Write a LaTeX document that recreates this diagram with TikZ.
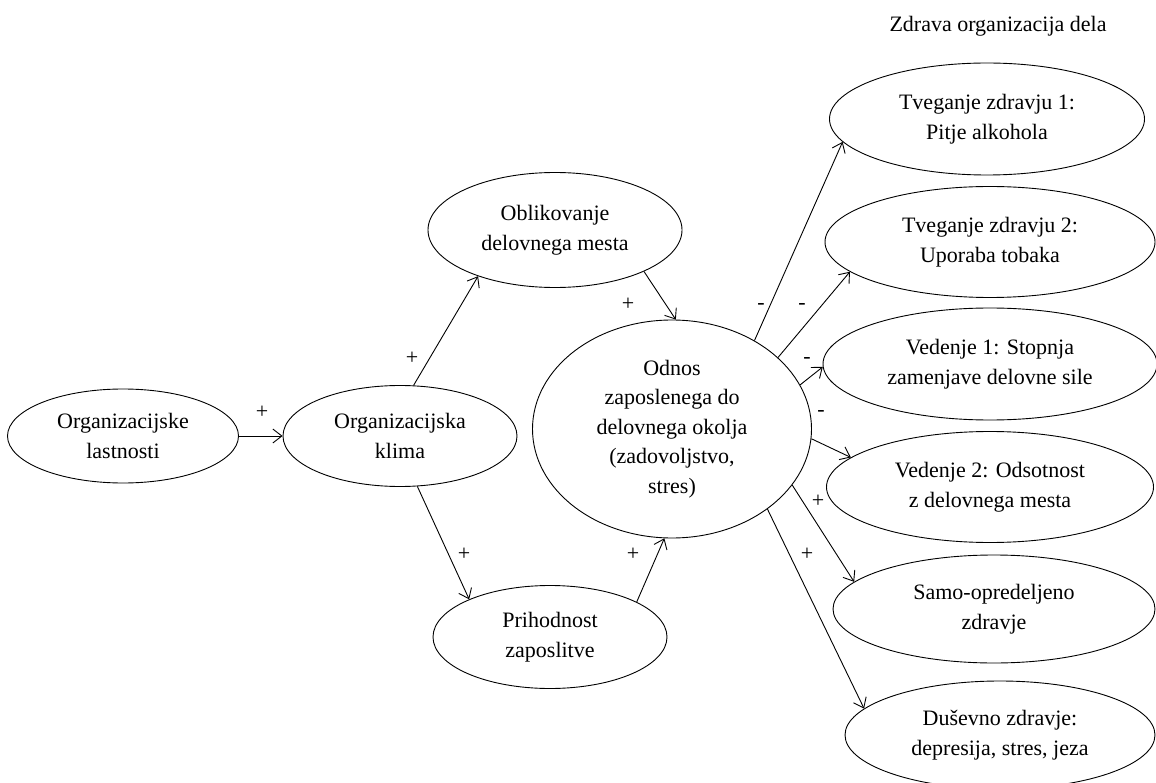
\documentclass[tikz,border=0pt]{standalone}
\usepackage{fontspec}
\setmainfont{Liberation Serif}
\usetikzlibrary{shapes.geometric,arrows.meta}
\begin{document}
\begin{tikzpicture}[x=1pt,y=-1pt,
  oval/.style={ellipse,draw,line width=0.9pt,inner sep=0pt,align=center,
    font=\fontsize{22}{29.5}\selectfont},
  conn/.style={line width=0.9pt,-{Straight Barb[length=9pt,width=14pt,line width=0.9pt]}},
  sign/.style={inner sep=0pt,font=\fontsize{22}{24}\selectfont}]
\useasboundingbox (0,0) rectangle (1156,783);
\node[inner sep=0pt,font=\fontsize{22}{24}\selectfont] (title) at (998,26) {Zdrava organizacija dela};

\node[oval,minimum width=231pt,minimum height=94pt] (org) at (123,436) {Organizacijske\\lastnosti};
\node[oval,minimum width=234pt,minimum height=101pt] (klima) at (400,436) {Organizacijska\\klima};
\node[oval,minimum width=254pt,minimum height=115pt] (oblik) at (555,230) {Oblikovanje\\delovnega mesta};
\node[oval,minimum width=234pt,minimum height=103pt] (prih) at (550,637) {Prihodnost\\zaposlitve};
\node[oval,minimum width=279pt,minimum height=218pt] (odnos) at (672,429) {Odnos\\zaposlenega do\\delovnega okolja\\(zadovoljstvo,\\stres)};

\node[oval,minimum width=315pt,minimum height=112pt] (t1) at (987,119) {Tveganje zdravju 1:\\Pitje alkohola};
\node[oval,minimum width=330pt,minimum height=111pt] (t2) at (990,242) {Tveganje zdravju 2:\\Uporaba tobaka};
\node[oval,minimum width=334pt,minimum height=112pt] (v1) at (990,364) {Vedenje 1: Stopnja\\zamenjave delovne sile};
\node[oval,minimum width=327pt,minimum height=111pt] (v2) at (990,487) {Vedenje 2: Odsotnost\\z delovnega mesta};
\node[oval,minimum width=322pt,minimum height=108pt] (samo) at (994,609) {Samo-opredeljeno\\zdravje};
\node[oval,minimum width=310pt,minimum height=108pt] (dus) at (1000,735) {Duševno zdravje:\\depresija, stres, jeza};

\draw[conn] (org.east) -- (klima.west);
\draw[conn] (klima.75.7) -- (oblik.211);
\draw[conn] (oblik.-25.8) -- (odnos.88);
\draw[conn] (klima.-71.9) -- (prih.155.8);
\draw[conn] (prih.22.3) -- (odnos.-94.2);
\draw[conn] (odnos.47) -- (t1.189);
\draw[conn] (odnos.34) -- (t2.192.2);
\draw[conn] (odnos.19) -- (v1.181);
\draw[conn] (odnos.-4.5) -- (v2.168);
\draw[conn] (odnos.-25) -- (samo.169);
\draw[conn] (odnos.-40.4) -- (dus.169);

\node[sign] (s1) at (262,412) {+};
\node[sign] (s2) at (412,358) {+};
\node[sign] (s3) at (628,304) {+};
\node[sign] (s4) at (464,554) {+};
\node[sign] (s5) at (633,554) {+};
\node[sign] (s6) at (761,306) {-};
\node[sign] (s7) at (802,306) {-};
\node[sign] (s8) at (807,360) {-};
\node[sign] (s9) at (821,413) {-};
\node[sign] (s10) at (818,501) {+};
\node[sign] (s11) at (807,554) {+};
\end{tikzpicture}
\end{document}
